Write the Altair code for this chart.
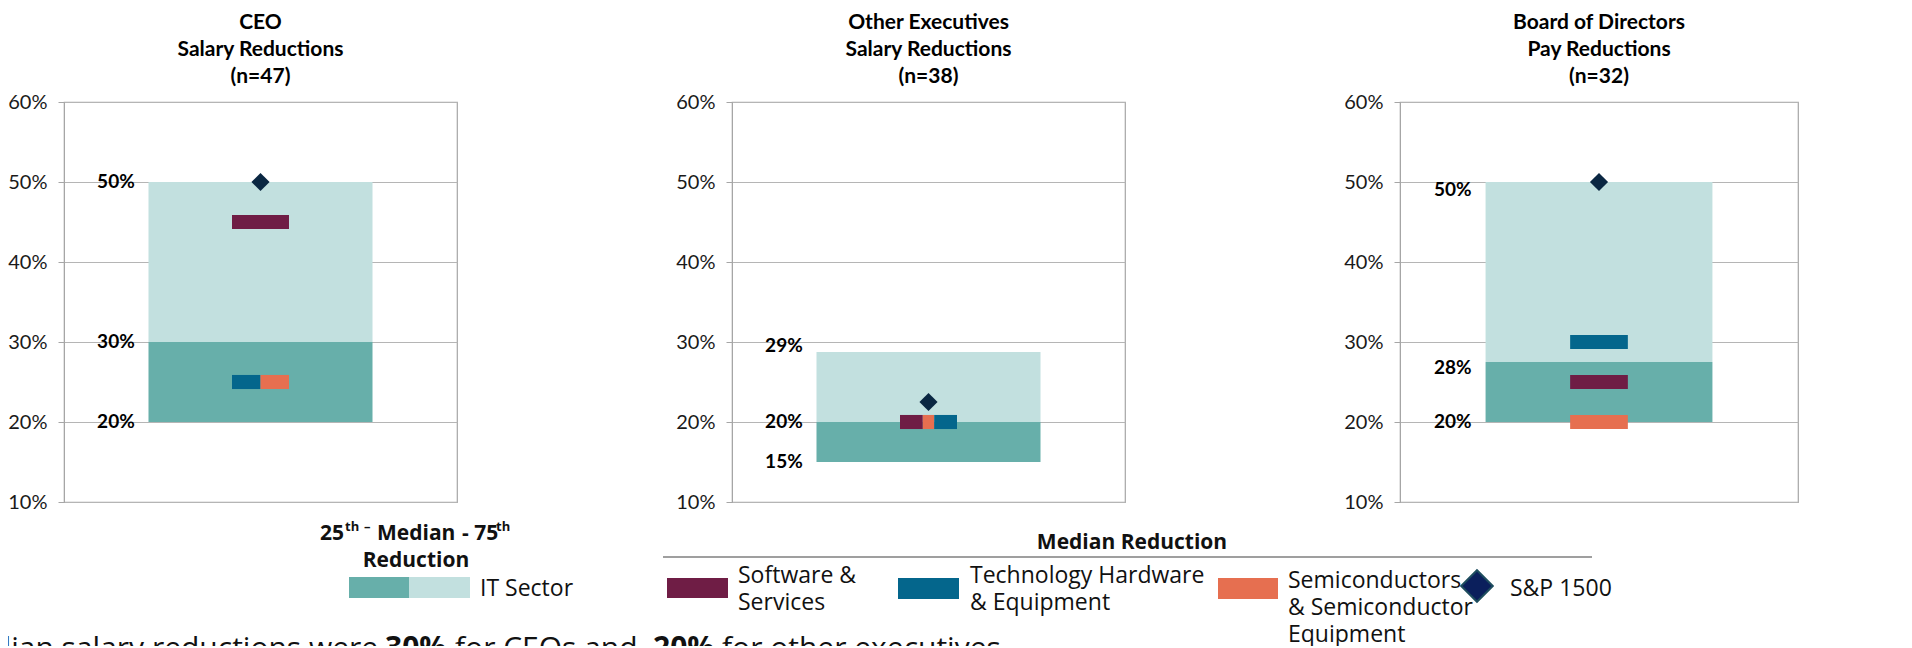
import altair as alt
import pandas as pd

# ---------------- data ----------------
panel_titles = [
    ["CEO", "Salary Reductions", "(n=47)"],
    ["Other Executives", "Salary Reductions", "(n=38)"],
    ["Board of Directors", "Pay Reductions", "(n=32)"],
]
it_p25 = [0.20, 0.15, 0.20]
it_median = [0.30, 0.20, 0.275]
it_p75 = [0.50, 0.2875, 0.50]
series_names = [
    "Software & Services",
    "Technology Hardware & Equipment",
    "Semiconductors & Semiconductor Equipment",
]
software_services = [0.45, 0.20, 0.25]
tech_hardware = [0.25, 0.20, 0.30]
semiconductors = [0.25, 0.20, 0.20]
sp1500 = [0.50, 0.225, 0.50]
y_tick_values = [0.1, 0.2, 0.3, 0.4, 0.5, 0.6]
sentence_parts = [
    ("Median salary reductions were", "normal"),
    ("30%", "bold"),
    ("for CEOs and", "normal"),
    ("20%", "bold"),
    ("for other executives", "normal"),
]

# ---------------- style ----------------
DARK_TEAL = "#67AFAA"
LIGHT_TEAL = "#C2E0DF"
MAROON = "#6F1D45"
BLUE = "#04668C"
ORANGE = "#E66F50"
NAVY = "#0A2742"
GRID = "#B5B5B5"
FRAME = "#A6A6A6"
TXT = "#111111"

PANEL_W = [393, 393, 398]
PANEL_H = 400
H_SPACING = 275
BAR_HALF = 0.285          # half width of IQR bar (fraction of panel width)
MARK_HALF = 0.0725        # half width of median markers
MARK_HALF_T = 0.0088      # half thickness of markers (data units)
LABEL_X = 0.18
TIE_ORDER = [
    ["Technology Hardware & Equipment", "Semiconductors & Semiconductor Equipment", "Software & Services"],
    ["Software & Services", "Semiconductors & Semiconductor Equipment", "Technology Hardware & Equipment"],
    ["Software & Services", "Technology Hardware & Equipment", "Semiconductors & Semiconductor Equipment"],
]
TIE_WEIGHTS = {1: [1], 2: [1, 1], 3: [2, 1, 2]}
LABEL_DY = {(1, "p75"): -6, (2, "p75"): 8, (2, "median"): 6}

series_colors = dict(zip(series_names, [MAROON, BLUE, ORANGE]))
series_values = [software_services, tech_hardware, semiconductors]

xs = alt.Scale(domain=[0, 1], nice=False, zero=False)
ys = alt.Scale(domain=[0.1, 0.6], nice=False, zero=False)
yaxis = alt.Axis(values=y_tick_values, format=".0%", title=None, grid=True)


def panel(i):
    bars = pd.DataFrame({
        "lo": [it_p25[i], it_median[i]],
        "hi": [it_median[i], it_p75[i]],
        "fill": [DARK_TEAL, LIGHT_TEAL],
        "x1": [0.5 - BAR_HALF] * 2,
        "x2": [0.5 + BAR_HALF] * 2,
    })
    bar_layer = alt.Chart(bars).mark_rect().encode(
        x=alt.X("x1:Q", scale=xs, axis=None),
        x2="x2:Q",
        y=alt.Y("lo:Q", scale=ys, axis=yaxis),
        y2="hi:Q",
        fill=alt.Fill("fill:N", scale=None),
    )

    # median markers, ties split side by side
    vals = {s: series_values[k][i] for k, s in enumerate(series_names)}
    rows = []
    groups = {}
    for s in series_names:
        groups.setdefault(round(vals[s], 5), []).append(s)
    for v, members in groups.items():
        members = sorted(members, key=lambda s: TIE_ORDER[i].index(s))
        w = TIE_WEIGHTS[len(members)]
        tot = sum(w)
        left = 0.5 - MARK_HALF
        for s, wk in zip(members, w):
            seg = 2 * MARK_HALF * wk / tot
            rows.append({"series": s, "v": vals[s], "lo": vals[s] - MARK_HALF_T,
                         "hi": vals[s] + MARK_HALF_T, "x1": left, "x2": left + seg,
                         "fill": series_colors[s]})
            left += seg
    marks = pd.DataFrame(rows)
    mark_layer = alt.Chart(marks).mark_rect().encode(
        x=alt.X("x1:Q", scale=xs, axis=None),
        x2="x2:Q",
        y=alt.Y("lo:Q", scale=ys, axis=yaxis),
        y2="hi:Q",
        fill=alt.Fill("fill:N", scale=None),
    )

    sp = pd.DataFrame({"v": [sp1500[i]], "x": [0.5]})
    sp_layer = alt.Chart(sp).mark_point(shape="diamond", filled=True, size=330, color=NAVY, opacity=1).encode(
        x=alt.X("x:Q", scale=xs, axis=None),
        y=alt.Y("v:Q", scale=ys, axis=yaxis),
    )

    lab = pd.DataFrame({
        "v": [it_p75[i], it_median[i], it_p25[i]],
        "stat": ["p75", "median", "p25"],
        "x": [LABEL_X] * 3,
    })
    lab["dy"] = [LABEL_DY.get((i, s), 0) for s in lab["stat"]]
    lab_layers = []
    for d in sorted(lab["dy"].unique()):
        lab_layers.append(
            alt.Chart(lab[lab["dy"] == d]).mark_text(
                align="right", baseline="middle", font="Lato", fontSize=19, fontWeight="bold",
                color="#000000", dy=float(d)
            ).encode(
                x=alt.X("x:Q", scale=xs, axis=None),
                y=alt.Y("v:Q", scale=ys, axis=yaxis),
                text=alt.Text("v:Q", format=".0%"),
            )
        )

    return alt.layer(bar_layer, mark_layer, sp_layer, *lab_layers).properties(
        width=PANEL_W[i], height=PANEL_H,
        title=alt.TitleParams(text=panel_titles[i], font="Lato", fontSize=21, fontWeight="bold",
                              color="#000000", lineHeight=27, anchor="middle", offset=5),
    )


row1 = alt.hconcat(panel(0), panel(1), panel(2), spacing=H_SPACING, bounds="flush")

# ---------------- legend row ----------------
LEG_X0 = 64     # page x of legend origin (aligned with first plot)
LEG_Y0 = 519    # page y of legend origin
LEG_W = 1600
LEG_H = 154


def lx(p):
    return p - LEG_X0


def ly(p):
    return p - LEG_Y0


one = alt.Chart(pd.DataFrame({"k": [0]}))


def txt(s, x, y, size=23, weight="normal", align="left", font="Open Sans"):
    return one.mark_text(align=align, baseline="alphabetic", font=font, fontSize=size,
                         fontWeight=weight, color=TXT, lineHeight=27).encode(
        x=alt.value(lx(x)), y=alt.value(ly(y)), text=alt.value(s))


def box(x1, x2, y1, y2, c):
    return one.mark_rect(color=c).encode(
        x=alt.value(lx(x1)), x2=alt.value(lx(x2)), y=alt.value(ly(y1)), y2=alt.value(ly(y2)))


leg_layers = [
    # "25th – Median - 75th" header with superscripts
    txt("25", 320, 542, size=21, weight="bold"),
    txt("th", 345, 533, size=13, weight="bold"),
    txt("–", 364, 533, size=13, weight="bold"),
    txt("Median", 377, 542, size=21, weight="bold"),
    txt("- 75", 462, 542, size=21, weight="bold"),
    txt("th", 496, 533, size=13, weight="bold"),
    txt("Reduction", 416, 569, size=21, weight="bold", align="center"),
    box(349, 409, 579, 600, DARK_TEAL),
    box(409, 470, 579, 600, LIGHT_TEAL),
    txt("IT Sector", 480, 598),
    one.mark_rule(color="#7F7F7F", strokeWidth=1.5).encode(
        x=alt.value(lx(663)), x2=alt.value(lx(1592)), y=alt.value(ly(559))),
    txt("Median Reduction", 1132, 551, size=21, weight="bold", align="center"),
    box(667, 728, 580, 600, MAROON),
    txt(["Software &", "Services"], 738, 585),
    box(898, 959, 580, 601, BLUE),
    txt(["Technology Hardware", "& Equipment"], 970, 585),
    box(1218, 1278, 580, 601, ORANGE),
    txt(["Semiconductors", "& Semiconductor", "Equipment"], 1288, 590),
    one.mark_point(shape="diamond", filled=True, size=1000, fill="#0B1F5C", stroke="#1E4D5E",
                   strokeWidth=2, opacity=1).encode(x=alt.value(lx(1477)), y=alt.value(ly(588))),
    txt("S&P 1500", 1510, 598),
]

# bottom sentence: runs off the left and bottom edges of the picture
sent_x = [-51, 385, 455, 653, 722]
for k, (s, wgt) in enumerate(sentence_parts):
    leg_layers.append(txt(s, sent_x[k], 660, size=30, weight=wgt))

legend_row = alt.layer(*leg_layers).properties(
    width=LEG_W, height=LEG_H, view=alt.ViewBackground(stroke=None)
)

chart = alt.concat(row1, legend_row, columns=1, spacing=4).properties(
    padding={"left": -59, "top": 3, "right": 0, "bottom": -25}
).configure_axis(
    gridColor=GRID, gridWidth=1, domainColor=FRAME, tickColor=FRAME, tickSize=6,
    labelFont="Lato", labelFontSize=20, labelColor="#1a1a1a", labelPadding=11,
).configure_view(stroke=FRAME, strokeWidth=1.2)

chart.save("out.html", embed_options={"renderer": "svg", "actions": False})
